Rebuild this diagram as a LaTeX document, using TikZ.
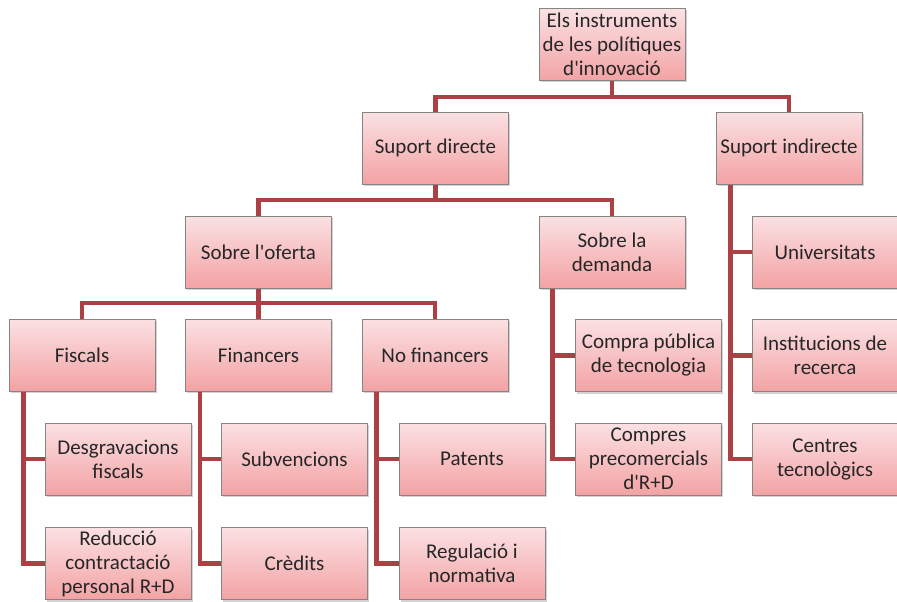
\documentclass[tikz,border=0pt]{standalone}
\usepackage{fontspec}
\setmainfont{Carlito}[Ligatures=TeXOff]
\usetikzlibrary{shadows}
\definecolor{boxtop}{HTML}{FBE1E3}
\definecolor{boxbot}{HTML}{F3A2A4}
\definecolor{boxline}{HTML}{858585}
\definecolor{conncol}{HTML}{AC4044}
\definecolor{txt}{HTML}{262626}
\begin{document}
\begin{tikzpicture}[x=1pt,y=-1pt,
  box/.style={rectangle, draw=boxline, line width=1pt, top color=boxtop, bottom color=boxbot,
    minimum width=146pt, minimum height=72pt, inner sep=2pt, align=center,
    text=txt, font=\fontsize{21}{24}\selectfont,
    drop shadow={opacity=0.35, shadow xshift=1.5pt, shadow yshift=-2pt}},
  conn/.style={draw=conncol, line width=4.5pt, line join=miter}]
\useasboundingbox (0,0) rectangle (897,602);
\coordinate (c1) at (0,97);
\coordinate (c2) at (0,200);
\coordinate (c3) at (0,303);
% nodes
\node[box] (top) at (612,44.5) {Els instruments\\de les polítiques\\d'innovació};
\node[box] (sd) at (435.5,148) {Suport directe};
\node[box] (si) at (789,148) {Suport indirecte};
\node[box] (so) at (258.5,252) {Sobre l'oferta};
\node[box] (sld) at (612,252) {Sobre la\\demanda};
\node[box] (uni) at (825,252) {Universitats};
\node[box] (fis) at (82,355) {Fiscals};
\node[box] (fin) at (258.5,355) {Financers};
\node[box] (nof) at (435,355) {No financers};
\node[box] (cp) at (648.5,355.5) {Compra pública\\de tecnologia};
\node[box] (ins) at (825,355.5) {Institucions de\\recerca};
\node[box] (des) at (118,459) {Desgravacions\\fiscals};
\node[box] (sub) at (294.5,459) {Subvencions};
\node[box] (pat) at (472,459) {Patents};
\node[box] (cpr) at (648.5,459) {Compres\\precomercials\\d'R+D};
\node[box] (cen) at (825,459) {Centres\\tecnològics};
\node[box] (red) at (118,563.5) {Reducció\\contractació\\personal R+D};
\node[box] (cre) at (294.5,563.5) {Crèdits};
\node[box] (reg) at (472,563.5) {Regulació i\\normativa};
% tree connectors
\draw[conn] (top.south) -- (top.south |- c1) -| (sd.north);
\draw[conn] (top.south |- c1) -| (si.north);
\draw[conn] (sd.south) -- (sd.south |- c2) -| (so.north);
\draw[conn] (sd.south |- c2) -| (sld.north);
\draw[conn] (so.south) -- (so.south |- c3) -| (fis.north);
\draw[conn] (so.south |- c3) -| (fin.north);
\draw[conn] (so.south |- c3) -| (nof.north);
\draw[conn] ([xshift=15pt]fis.south west) |- (des.west);
\draw[conn] ([xshift=15pt]fis.south west) |- (red.west);
\draw[conn] ([xshift=15pt]fin.south west) |- (sub.west);
\draw[conn] ([xshift=15pt]fin.south west) |- (cre.west);
\draw[conn] ([xshift=15pt]nof.south west) |- (pat.west);
\draw[conn] ([xshift=15pt]nof.south west) |- (reg.west);
\draw[conn] ([xshift=14pt]sld.south west) |- (cp.west);
\draw[conn] ([xshift=14pt]sld.south west) |- (cpr.west);
\draw[conn] ([xshift=15pt]si.south west) |- (uni.west);
\draw[conn] ([xshift=15pt]si.south west) |- (ins.west);
\draw[conn] ([xshift=15pt]si.south west) |- (cen.west);
\end{tikzpicture}
\end{document}
